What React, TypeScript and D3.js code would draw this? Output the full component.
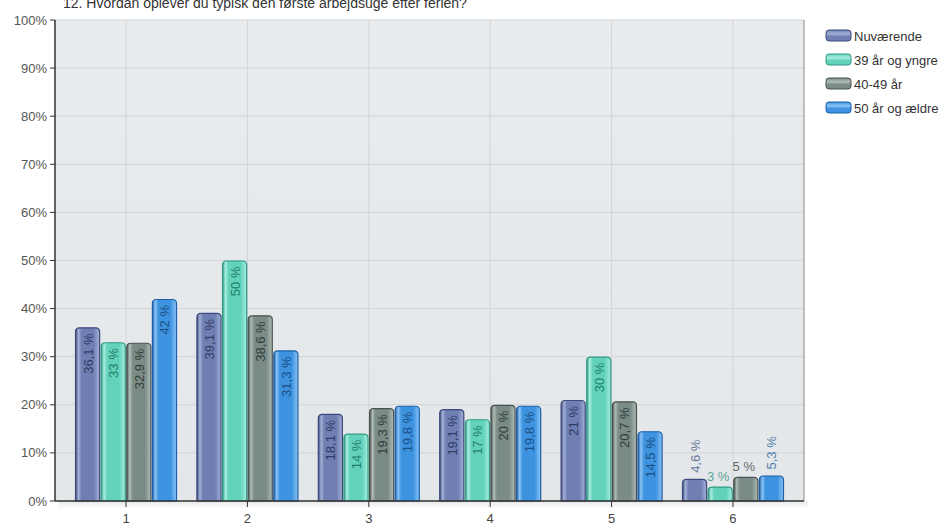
import * as d3 from 'd3';
import * as React from 'react';

const title = '12. Hvordan oplever du typisk den første arbejdsuge efter ferien?';
const categories = ['1', '2', '3', '4', '5', '6'];
const seriesNames = ['Nuværende', '39 år og yngre', '40-49 år', '50 år og ældre'];
const nuvaerende = [36.1, 39.1, 18.1, 19.1, 21, 4.6];
const yngre = [33, 50, 14, 17, 30, 3];
const mellem = [32.9, 38.6, 19.3, 20, 20.7, 5];
const aeldre = [42, 31.3, 19.8, 19.8, 14.5, 5.3];
const yTicks = [0, 10, 20, 30, 40, 50, 60, 70, 80, 90, 100];

const seriesValues = [nuvaerende, yngre, mellem, aeldre];
const colors = [
  { base: '#6f7fb3', light: '#a3b0d6', dark: '#3e4a7c', text: '#2f3a66', outText: '#66779a' },
  { base: '#63d2bb', light: '#a8eedf', dark: '#2f9a84', text: '#22806b', outText: '#5aa595' },
  { base: '#7b8b86', light: '#b0bdb8', dark: '#47534f', text: '#323c39', outText: '#5f6b68' },
  { base: '#3d93e0', light: '#8cc4f5', dark: '#1d5ea8', text: '#1b4f86', outText: '#4f7ea8' },
];

const W = 952;
const H = 523;
const plot = { left: 55, right: 804, top: 20, bottom: 501 };

const fmt = (v: number) => `${String(v).replace('.', ',')} %`;

function barPath(x: number, y: number, w: number, h: number, r: number) {
  const rr = Math.min(r, h / 2, w / 2);
  const p = d3.path();
  p.moveTo(x, y + h);
  p.lineTo(x, y + rr);
  p.quadraticCurveTo(x, y, x + rr, y);
  p.lineTo(x + w - rr, y);
  p.quadraticCurveTo(x + w, y, x + w, y + rr);
  p.lineTo(x + w, y + h);
  p.closePath();
  return p.toString();
}

export default function App() {
  const x = d3.scalePoint<string>().domain(categories).range([plot.left, plot.right]).padding(0.585);
  const y = d3.scaleLinear().domain([0, 100]).range([plot.bottom, plot.top]);
  const inner = d3.scaleBand<number>().domain(d3.range(seriesNames.length)).range([-51, 51]).paddingInner(0.02);
  const font = '"Liberation Sans", Arial, sans-serif';

  return (
    <svg width={W} height={H} style={{ position: 'absolute', left: 0, top: 0 }} fontFamily={font}>
      <defs>
        <linearGradient id="plotBg" x1="0" y1="0" x2="0" y2="1">
          <stop offset="0" stopColor="#e9ecef" />
          <stop offset="1" stopColor="#e4e7ea" />
        </linearGradient>
        <linearGradient id="shadow" x1="0" y1="0" x2="0" y2="1">
          <stop offset="0" stopColor="#d8d8d8" />
          <stop offset="1" stopColor="#ffffff" />
        </linearGradient>
        {colors.map((c, i) => (
          <linearGradient key={i} id={`bar${i}`} x1="0" y1="0" x2="1" y2="0">
            <stop offset="0" stopColor={c.dark} />
            <stop offset="0.12" stopColor={c.light} />
            <stop offset="0.25" stopColor={c.base} />
            <stop offset="0.75" stopColor={c.base} />
            <stop offset="1" stopColor={c.light} />
          </linearGradient>
        ))}
        {colors.map((c, i) => (
          <linearGradient key={i} id={`leg${i}`} x1="0" y1="0" x2="0" y2="1">
            <stop offset="0" stopColor={c.base} />
            <stop offset="0.35" stopColor={c.light} />
            <stop offset="0.6" stopColor={c.base} />
            <stop offset="1" stopColor={c.base} />
          </linearGradient>
        ))}
      </defs>

      <text x={63} y={8} fontSize={14} fill="#333">{title}</text>

      {/* plot background */}
      <rect x={plot.left + 4} y={plot.bottom} width={plot.right - plot.left} height={8} fill="url(#shadow)" opacity={0.6} />
      <rect x={plot.left} y={plot.top} width={plot.right - plot.left} height={plot.bottom - plot.top} fill="url(#plotBg)" />

      {yTicks.map(t => (
        <g key={t}>
          <line x1={plot.left} x2={plot.right} y1={y(t)} y2={y(t)} stroke="#d2d4d6" />
          <line x1={plot.left - 5} x2={plot.left} y1={y(t)} y2={y(t)} stroke="#333" />
          <text x={plot.left - 8} y={y(t)} dy="0.35em" textAnchor="end" fontSize={13} fill="#555">{`${t}%`}</text>
        </g>
      ))}
      {categories.map(c => (
        <g key={c}>
          <line x1={x(c)} x2={x(c)} y1={plot.top} y2={plot.bottom} stroke="#d2d4d6" />
          <line x1={x(c)} x2={x(c)} y1={plot.bottom} y2={plot.bottom + 6} stroke="#333" />
          <text x={x(c)} y={plot.bottom + 22} textAnchor="middle" fontSize={13} fill="#444">{c}</text>
        </g>
      ))}
      <line x1={plot.right} x2={plot.right} y1={plot.top} y2={plot.bottom} stroke="#888" />

      {/* bars */}
      {categories.map((c, ci) => (
        <g key={c}>
          {seriesValues.map((vals, si) => {
            const v = vals[ci];
            const bx = (x(c) as number) + (inner(si) as number);
            const bw = inner.bandwidth();
            const top = y(v);
            const h = plot.bottom - top;
            return (
              <path
                key={si}
                d={barPath(bx + 0.5, top + 0.5, bw - 1, h - 0.5, 4)}
                fill={`url(#bar${si})`}
                stroke={colors[si].dark}
                strokeWidth={1.2}
              />
            );
          })}
        </g>
      ))}

      {/* labels */}
      {categories.map((c, ci) => (
        <g key={c}>
          {seriesValues.map((vals, si) => {
            const v = vals[ci];
            const label = fmt(v);
            const cx = (x(c) as number) + (inner(si) as number) + inner.bandwidth() / 2;
            const top = y(v);
            const h = plot.bottom - top;
            const textLen = label.length * 7;
            if (h > textLen + 10) {
              return (
                <text key={si} transform={`translate(${cx + 5},${top + 6}) rotate(-90)`}
                  textAnchor="end" fontSize={13} fill={colors[si].text}>{label}</text>
              );
            }
            if (label.length <= 3) {
              return (
                <text key={si} x={cx - 2} y={top - 6} textAnchor="middle" fontSize={13} fill={colors[si].outText}>{label}</text>
              );
            }
            return (
              <text key={si} transform={`translate(${cx + 5},${top - 6}) rotate(-90)`}
                textAnchor="start" fontSize={13} fill={colors[si].outText}>{label}</text>
            );
          })}
        </g>
      ))}

      {/* axes */}
      <line x1={plot.left} x2={plot.left} y1={plot.top} y2={plot.bottom} stroke="#333" strokeWidth={1.5} />
      <line x1={plot.left} x2={plot.right} y1={plot.bottom} y2={plot.bottom} stroke="#333" strokeWidth={1.5} />

      {/* legend */}
      {seriesNames.map((n, i) => (
        <g key={n} transform={`translate(826,${30 + i * 24})`}>
          <rect x={0} y={0} width={25} height={11} rx={3} fill={`url(#leg${i})`} stroke={colors[i].dark} />
          <text x={28} y={6} dy="0.35em" fontSize={13} fill="#333">{n}</text>
        </g>
      ))}
    </svg>
  );
}
